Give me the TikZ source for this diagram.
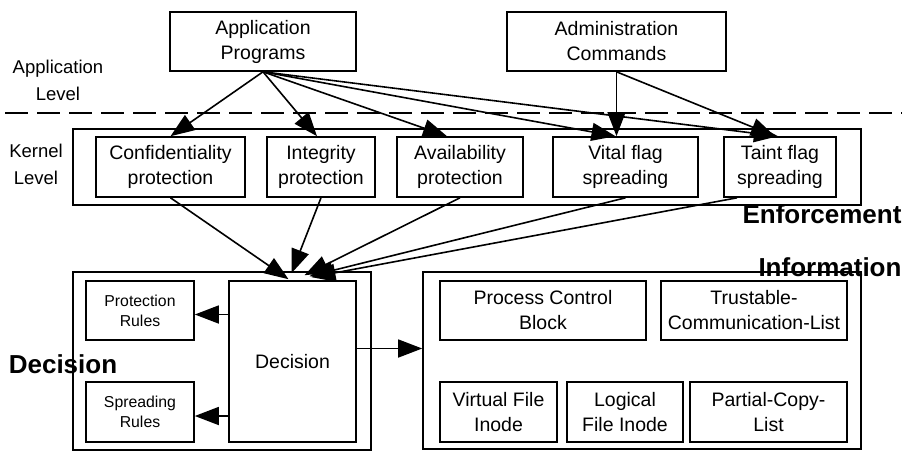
\documentclass[tikz,border=0pt]{standalone}
\usepackage{fontspec}
\setmainfont{Liberation Sans}
\usetikzlibrary{arrows.meta,calc}
\begin{document}
\begin{tikzpicture}[x=1pt,y=-1pt,
  box/.style={draw,line width=1.6pt,inner sep=0pt,align=center,font=\fontsize{19.5}{25}\selectfont},
  smallbox/.style={box,font=\fontsize{15.8}{20}\selectfont},
  frame/.style={draw,line width=1.6pt,inner sep=0pt},
  arr/.style={line width=1.6pt,-{Triangle[length=24pt,width=18pt]}},
  lbl/.style={align=center,font=\fontsize{18.5}{27}\selectfont},
  big/.style={inner sep=0pt,font=\fontsize{26}{30}\selectfont\bfseries},
]
\useasboundingbox (0,0) rectangle (902,451);

% outer frames
\node[frame,minimum width=788pt,minimum height=76pt] (kernel) at (467,167) {};
\node[frame,minimum width=298pt,minimum height=178pt] (decframe) at (222,361) {};
\node[frame,minimum width=438pt,minimum height=177pt] (info) at (642,360.5) {};

% level separator
\coordinate (dl) at (5,113);
\coordinate (dr) at (902,113);
\draw[line width=2.6pt,dash pattern=on 23pt off 9pt] (dl) -- (dr);

% level labels
\node[lbl] (applevel) at (58,80) {Application\\Level};
\node[lbl] (kernlevel) at (36,164) {Kernel\\Level};

% top boxes
\node[box,minimum width=186pt,minimum height=59pt] (app) at (263,41.5) {Application\\Programs};
\node[box,minimum width=219pt,minimum height=59pt] (adm) at (616.5,41.5) {Administration\\Commands};

% enforcement boxes
\node[box,minimum width=149pt,minimum height=60pt] (conf) at (170.5,167) {Confidentiality\\protection};
\node[box,minimum width=108pt,minimum height=60pt] (integ) at (321,167) {Integrity\\protection};
\node[box,minimum width=126pt,minimum height=60pt] (avail) at (460,167) {Availability\\protection};
\node[box,minimum width=145pt,minimum height=60pt] (vital) at (625.5,167) {Vital flag\\spreading};
\node[box,minimum width=112pt,minimum height=60pt] (taint) at (780,167) {Taint flag\\spreading};

% decision boxes
\node[smallbox,minimum width=108pt,minimum height=59pt] (prot) at (140,310.5) {Protection\\Rules};
\node[smallbox,minimum width=108pt,minimum height=60pt] (spread) at (140,412) {Spreading\\Rules};
\node[box,minimum width=127pt,minimum height=161pt] (dec) at (292.5,361.5) {Decision};

% information boxes
\node[box,minimum width=206pt,minimum height=59pt] (pcb) at (543,310.5) {Process Control\\Block};
\node[box,minimum width=186pt,minimum height=59pt] (trust) at (754,310.5) {Trustable-\\Communication-List};
\node[box,minimum width=117pt,minimum height=60pt] (vfi) at (498.5,412) {Virtual File\\Inode};
\node[box,minimum width=116pt,minimum height=60pt] (lfi) at (625,412) {Logical\\File Inode};
\node[box,minimum width=157pt,minimum height=60pt] (pcl) at (768.5,412) {Partial-Copy-\\List};

% big labels
\node[big] (enf) at (822,214) {Enforcement};
\node[big] (inf) at (830,267) {Information};
\node[big] (decl) at (63,364) {Decision};

% arrows from applications
\draw[arr] (app.south) -- (conf.north);
\draw[arr] (app.south) -- ([xshift=-4pt]integ.north);
\draw[arr] (app.south) -- ([xshift=-13pt]avail.north);
\draw[arr] (app.south) -- ([xshift=-10pt]vital.north);
\draw[arr] (app.south) -- ([xshift=-2pt]taint.north);
\draw[arr] (adm.south) -- (adm.south |- vital.north);
\draw[arr] (adm.south) -- ([xshift=-5pt]taint.north);

% arrows to decision
\draw[arr] (conf.south) -- ([xshift=-4pt,yshift=1pt]dec.north);
\draw[arr] (integ.south) -- ([xshift=-1pt,yshift=7pt]dec.north);
\draw[arr] (avail.south) -- ([xshift=12pt,yshift=5pt]dec.north);
\draw[arr] (vital.south) -- ([xshift=17pt,yshift=4pt]dec.north);
\draw[arr] ([xshift=-43pt]taint.south) -- ([xshift=19pt,yshift=3pt]dec.north);

% decision to rules and information
\draw[arr] ([yshift=-4pt]dec.west |- prot.east) -- ([yshift=-4pt]prot.east);
\draw[arr] ([yshift=-4pt]dec.west |- spread.east) -- ([yshift=-4pt]spread.east);
\coordinate (dout) at ([yshift=13pt]dec.east);
\draw[arr] (dout) -- (dout -| info.west);
\end{tikzpicture}
\end{document}
